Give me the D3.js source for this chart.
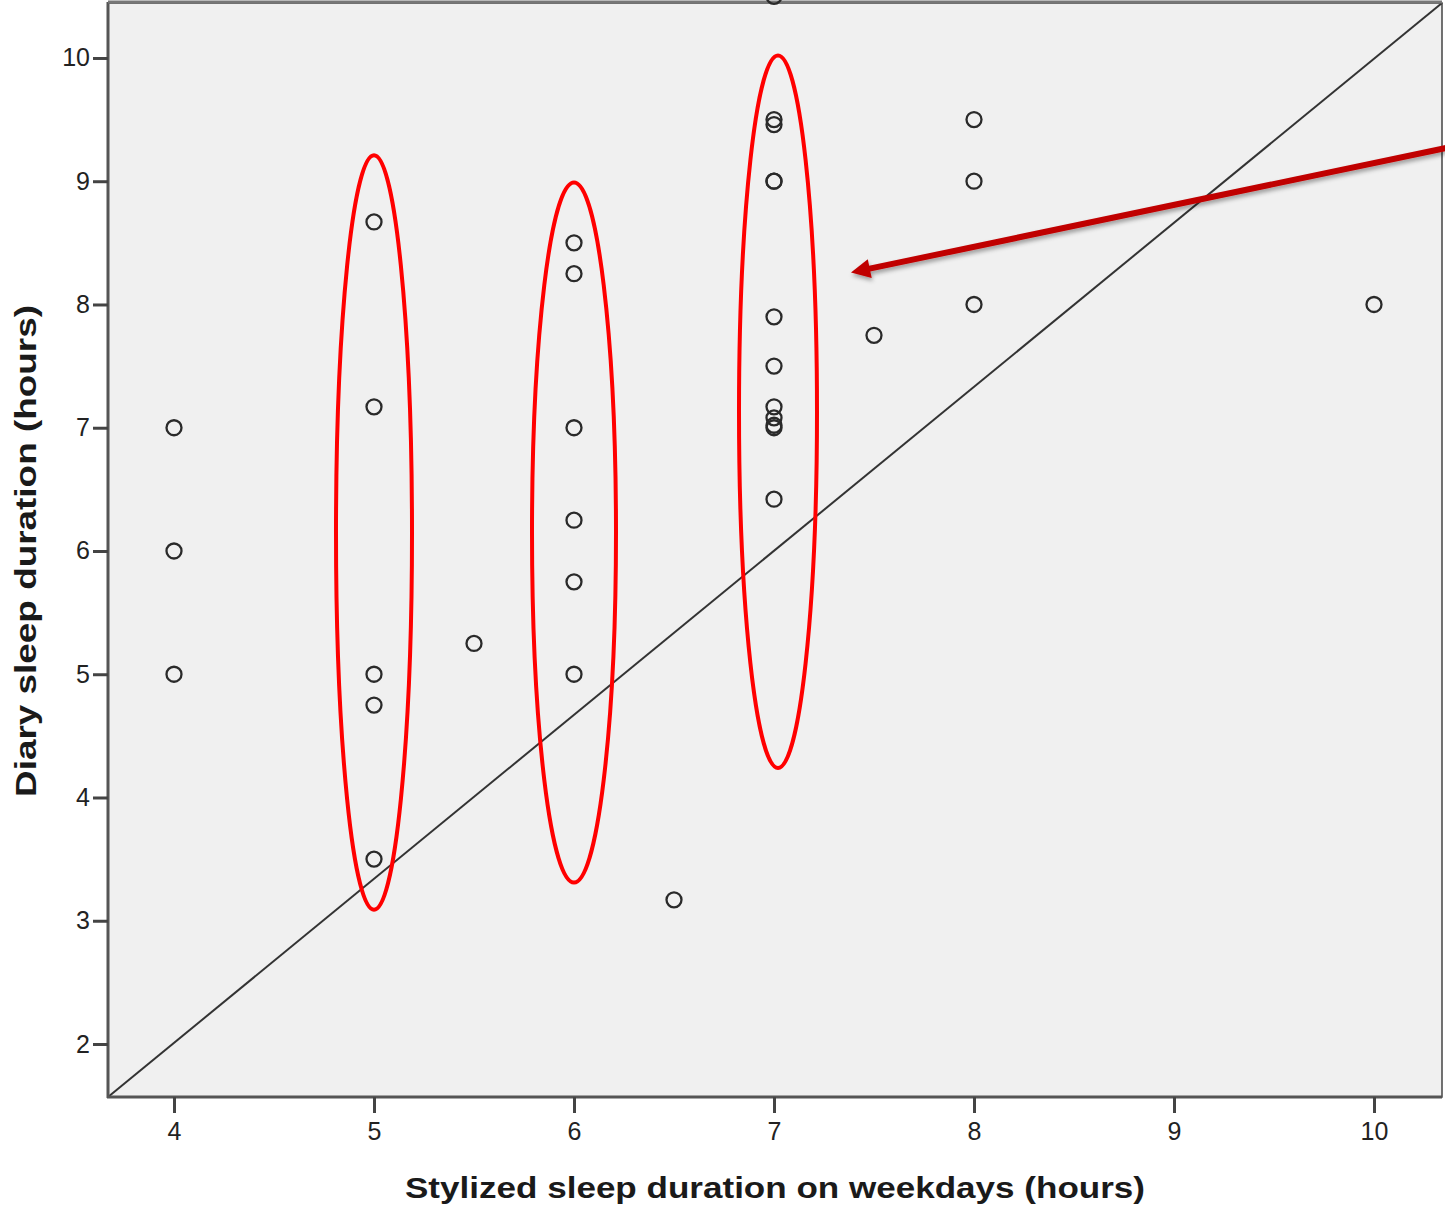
<!DOCTYPE html>
<html>
<head>
<meta charset="utf-8">
<script src="https://cdn.jsdelivr.net/npm/d3@7"></script>
<style>
  body { margin: 0; background: #fff; }
  text { font-family: Arial, "Liberation Sans", sans-serif; }
</style>
</head>
<body>
<div id="chart-area"></div>
<script>
// data
const weekdayHours = [4, 4, 4, 5, 5, 5, 5, 5, 5.5, 6, 6, 6, 6, 6, 6, 6.5,
  7, 7, 7, 7, 7, 7, 7, 7, 7, 7, 7, 7, 7.5, 8, 8, 8, 10]
const diaryHours = [7, 6, 5, 8.67, 7.17, 5, 4.75, 3.5, 5.25, 8.5, 8.25, 7, 6.25, 5.75, 5, 3.17,
  10.5, 9.5, 9.46, 9, 9, 7.9, 7.5, 7.17, 7.08, 7.02, 7, 6.42, 7.75, 9.5, 9, 8, 8]
const xTicks = [4, 5, 6, 7, 8, 9, 10]
const yTicks = [2, 3, 4, 5, 6, 7, 8, 9, 10]

// highlight ellipses: centre x, centre y, radius x, radius y (data units)
const ellipseCx = [5, 6, 7.02]
const ellipseCy = [6.15, 6.15, 7.13]
const ellipseRx = [0.19, 0.21, 0.195]
const ellipseRy = [3.06, 2.84, 2.89]

// arrow from / to (data units)
const arrowFrom = [10.36, 9.27]
const arrowTo = [7.39, 8.26]

const points = weekdayHours.map((x, i) => ({ x: x, y: diaryHours[i] }))

const WIDTH = 1445
const HEIGHT = 1211
const PLOT = { LEFT: 108, RIGHT: 1442, TOP: 3, BOTTOM: 1097 }

const svg = d3.select("#chart-area").append("svg")
  .attr("width", WIDTH)
  .attr("height", HEIGHT)

const defs = svg.append("defs")
defs.append("marker")
  .attr("id", "head")
  .attr("viewBox", "0 0 10 10")
  .attr("refX", 2)
  .attr("refY", 5)
  .attr("markerWidth", 4.2)
  .attr("markerHeight", 3.2)
  .attr("markerUnits", "strokeWidth")
  .attr("orient", "auto")
  .append("path")
  .attr("d", "M0,0 L10,5 L0,10 Z")
  .attr("fill", "#c00000")
const shadow = defs.append("filter").attr("id", "shadow")
  .attr("x", "-10%").attr("y", "-50%").attr("width", "120%").attr("height", "200%")
shadow.append("feDropShadow")
  .attr("dx", 1).attr("dy", 3).attr("stdDeviation", 2)
  .attr("flood-color", "#000").attr("flood-opacity", 0.35)

const x = d3.scaleLinear()
  .domain([3.67, 10.34])
  .range([PLOT.LEFT, PLOT.RIGHT])

const y = d3.scaleLinear()
  .domain([1.57, 10.446])
  .range([PLOT.BOTTOM, PLOT.TOP])

// plot background
svg.append("rect")
  .attr("x", PLOT.LEFT)
  .attr("y", PLOT.TOP)
  .attr("width", PLOT.RIGHT - PLOT.LEFT)
  .attr("height", PLOT.BOTTOM - PLOT.TOP)
  .attr("fill", "#f0f0f0")
  .attr("stroke", "#444")
  .attr("stroke-width", 1.5)

// diagonal reference line
svg.append("line")
  .attr("x1", x(3.67)).attr("y1", y(1.57))
  .attr("x2", x(10.34)).attr("y2", y(10.446))
  .attr("stroke", "#333")
  .attr("stroke-width", 2)

// axes
const xAxisGroup = svg.append("g")
  .attr("transform", `translate(0, ${PLOT.BOTTOM})`)
  .call(d3.axisBottom(x).tickValues(xTicks).tickSize(16).tickPadding(9).tickFormat(d3.format("d")))
xAxisGroup.select(".domain").attr("stroke", "#555").attr("stroke-width", 3)
  .attr("d", `M${PLOT.LEFT - 1},0H${PLOT.RIGHT}`)

const yAxisGroup = svg.append("g")
  .attr("transform", `translate(${PLOT.LEFT}, 0)`)
  .call(d3.axisLeft(y).tickValues(yTicks).tickSize(15).tickPadding(3).tickFormat(d3.format("d")))
yAxisGroup.select(".domain").attr("stroke", "#555").attr("stroke-width", 3)
  .attr("d", `M0,${PLOT.TOP - 1}V${PLOT.BOTTOM + 1}`)

svg.selectAll(".tick line").attr("stroke", "#444").attr("stroke-width", 3)
svg.selectAll(".tick text")
  .attr("font-size", "25px")
  .attr("fill", "#222")

// top border
svg.append("line")
  .attr("x1", PLOT.LEFT).attr("x2", PLOT.RIGHT)
  .attr("y1", PLOT.TOP - 1).attr("y2", PLOT.TOP - 1)
  .attr("stroke", "#777").attr("stroke-width", 3)

// points
svg.append("g").selectAll("circle")
  .data(points)
  .enter().append("circle")
  .attr("cx", d => x(d.x))
  .attr("cy", d => y(d.y))
  .attr("r", 7.5)
  .attr("fill", "none")
  .attr("stroke", "#2a2a2a")
  .attr("stroke-width", 2.3)

// axis titles
svg.append("text")
  .attr("x", 775)
  .attr("y", 1198)
  .attr("text-anchor", "middle")
  .attr("font-family", "'DejaVu Sans', sans-serif")
  .attr("font-size", "29px")
  .attr("font-weight", "bold")
  .attr("fill", "#1a1a1a")
  .attr("textLength", 740)
  .attr("lengthAdjust", "spacingAndGlyphs")
  .text("Stylized sleep duration on weekdays (hours)")

svg.append("text")
  .attr("transform", `translate(36, 551) rotate(-90)`)
  .attr("text-anchor", "middle")
  .attr("font-family", "'DejaVu Sans', sans-serif")
  .attr("font-size", "29px")
  .attr("font-weight", "bold")
  .attr("fill", "#1a1a1a")
  .attr("textLength", 492)
  .attr("lengthAdjust", "spacingAndGlyphs")
  .text("Diary sleep duration (hours)")

// ellipses
svg.append("g").selectAll("ellipse")
  .data(ellipseCx)
  .enter().append("ellipse")
  .attr("cx", (d, i) => x(d))
  .attr("cy", (d, i) => y(ellipseCy[i]))
  .attr("rx", (d, i) => x(d + ellipseRx[i]) - x(d))
  .attr("ry", (d, i) => y(ellipseCy[i] - ellipseRy[i]) - y(ellipseCy[i]))
  .attr("fill", "none")
  .attr("stroke", "#ff0000")
  .attr("stroke-width", 4)

// arrow
svg.append("line")
  .attr("x1", x(arrowFrom[0])).attr("y1", y(arrowFrom[1]))
  .attr("x2", x(arrowTo[0]) + 14).attr("y2", y(arrowTo[1]) - 3)
  .attr("stroke", "#c00000")
  .attr("stroke-width", 6)
  .attr("marker-end", "url(#head)")
  .attr("filter", "url(#shadow)")
</script>
</body>
</html>
